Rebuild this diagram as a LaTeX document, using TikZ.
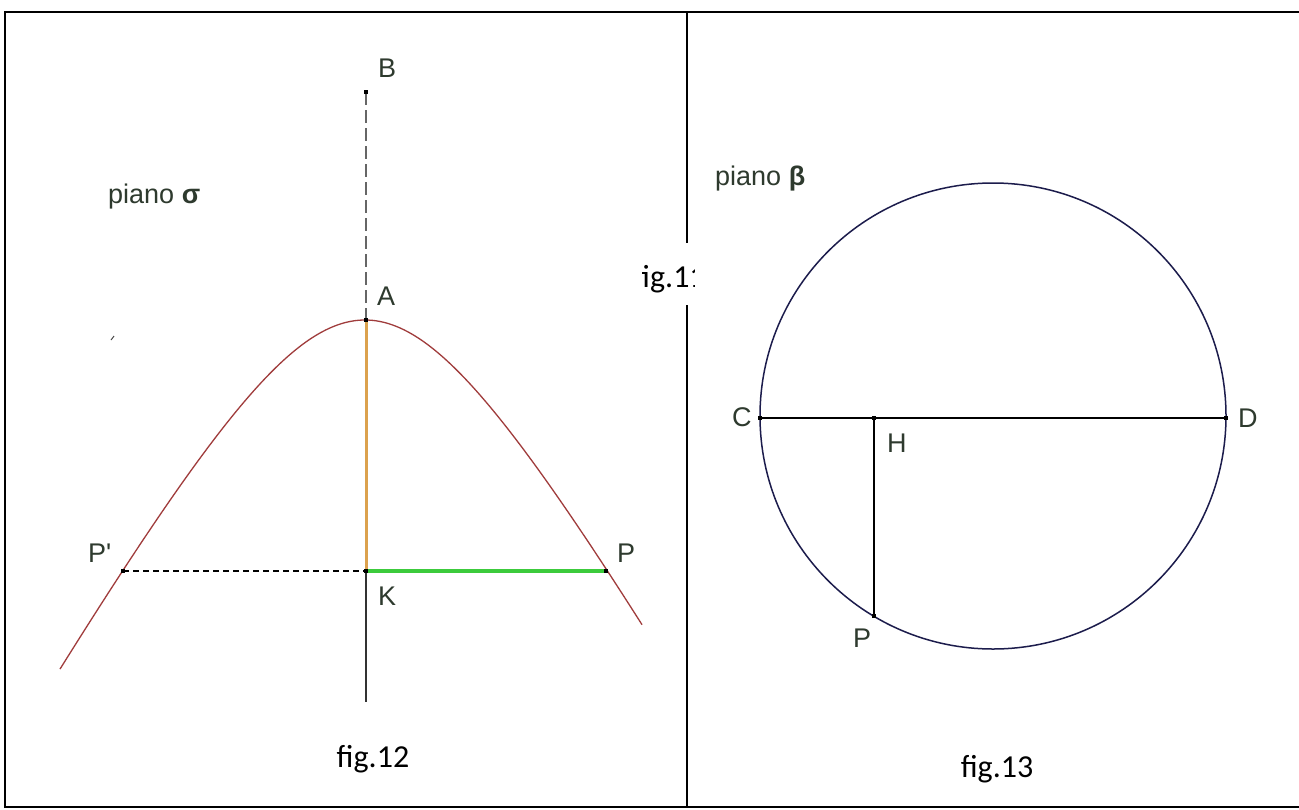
\documentclass[tikz,border=0pt]{standalone}
\usepackage{fontspec}
\setmainfont{Liberation Sans}
\newfontfamily\figfont{Carlito}
\definecolor{labelcol}{HTML}{2E3A2E}
\definecolor{curvecol}{HTML}{A03C3C}
\definecolor{orangecol}{HTML}{DCA24E}
\definecolor{greencol}{HTML}{3CCB3C}
\definecolor{circcol}{HTML}{1C1C4C}
\tikzset{
  lbl/.style={text=labelcol, inner sep=0pt, anchor=west, font=\fontsize{27}{32}\selectfont},
  plbl/.style={text=labelcol, inner sep=0pt, anchor=base west, font=\fontsize{27}{32}\selectfont},
  figlbl/.style={text=black, inner sep=0pt, anchor=base, font=\figfont\fontsize{32}{38}\selectfont},
  frame/.style={line width=2.5pt, black},
  pt/.style={fill=black},
}
\newcommand{\dotat}[1]{\fill[pt] ([shift={(-2,-2)}]#1) rectangle ([shift={(2,2)}]#1);}
\begin{document}
\begin{tikzpicture}[x=1pt,y=-1pt]
\useasboundingbox (0,0) rectangle (1299,809);
\fill[white] (0,0) rectangle (1299,809);
% frame
\coordinate (TL) at (5,12);
\coordinate (TR) at (1299,12);
\coordinate (BL) at (5,807);
\coordinate (BR) at (1299,807);
\coordinate (DT) at (687,12);
\coordinate (DG1) at (687,243);
\coordinate (DG2) at (687,305);
\coordinate (DB) at (687,807);
\draw[frame] (TR) -- (TL) -- (BL) -- (BR);
\draw[frame] (DT) -- (DG1);
\draw[frame] (DG2) -- (DB);
% clipped caption between panels
\begin{scope}
\clip (642,240) rectangle (694,310);
\node[figlbl, anchor=base west] (f11) at (633,287) {fig.11};
\end{scope}

% ---------- left figure ----------
\coordinate (B) at (366,92);
\coordinate (A) at (366,320);
\coordinate (K) at (366,571);
\coordinate (Kend) at (366,702);
\coordinate (P) at (606,571);
\coordinate (Pp) at (123,571);
% hyperbola
\draw[curvecol, line width=1.3pt] plot[domain=-305:277, samples=150, smooth] ({365+\x},{320+230*(sqrt(1+(\x/132)^2)-1)});
\draw[gray!80!black, line width=1.2pt, dash pattern=on 13pt off 5pt] (B) -- (A);
\draw[orangecol, line width=3pt] (A) -- (K);
\draw[black!80, line width=2pt] (K) -- (Kend);
\draw[black, line width=1.5pt, dash pattern=on 6pt off 4pt] (Pp) -- (K);
\draw[greencol, line width=4pt] (K) -- (P);
\dotat{B} \dotat{A} \dotat{K} \dotat{P} \dotat{Pp}
\draw[black!70, line width=1pt] (111,340) -- (114,336);
\node[lbl] (lB) at (378,68) {B};
\node[lbl] (lA) at (377,296) {A};
\node[lbl] (lK) at (378,596) {K};
\node[lbl] (lP) at (617,553) {P};
\node[lbl] (lPp) at (88,553) {P\textquotesingle};
\node[plbl] (sigma) at (108,203) {piano \textbf{σ}};
\node[figlbl] (f12) at (373,767) {fig.12};

% ---------- right figure ----------
\coordinate (O) at (993,416);
\coordinate (C) at (760,418);
\coordinate (D) at (1226,418);
\coordinate (H) at (874,418);
\coordinate (Q) at (874,616);
\draw[circcol, line width=1.5pt] (O) circle[radius=233];
\draw[black, line width=1.5pt] (C) -- (D);
\draw[black, line width=1.5pt] (H) -- (Q);
\dotat{C} \dotat{D} \dotat{H} \dotat{Q}
\node[lbl] (lC) at (732,417) {C};
\node[lbl] (lD) at (1238,418) {D};
\node[lbl] (lH) at (887,443) {H};
\node[lbl] (lQ) at (853,638) {P};
\node[plbl] (beta) at (715,185) {piano \textbf{β}};
\node[figlbl] (f13) at (997,777) {fig.13};
\end{tikzpicture}
\end{document}
